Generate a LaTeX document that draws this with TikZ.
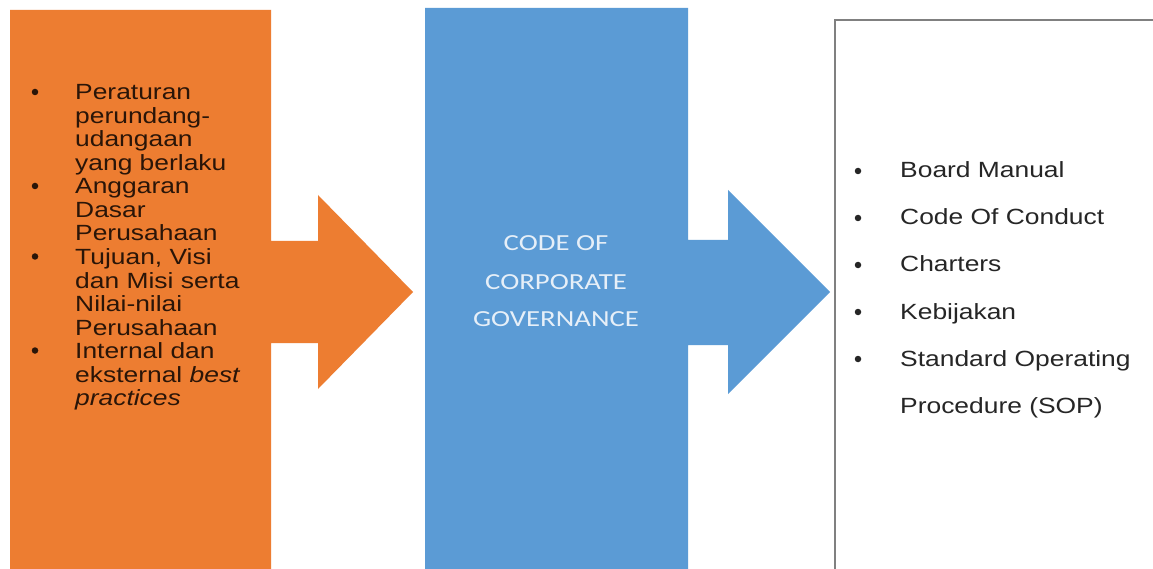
\documentclass[tikz,border=0pt]{standalone}
\usepackage{fontspec}
\setmainfont{Liberation Sans}[FakeStretch=1.2]
\newfontfamily\midfont{Carlito}[FakeStretch=1.25]
\definecolor{orangeC}{HTML}{ED7D31}
\definecolor{blueC}{HTML}{5B9BD5}
\definecolor{midtxt}{HTML}{E6EFF8}
\definecolor{darktxt}{HTML}{2A1508}
\definecolor{righttxt}{HTML}{262626}
\definecolor{boxgray}{HTML}{808080}
\tikzset{
  lefttxt/.style={anchor=base west, inner sep=0pt, text=darktxt, font=\fontsize{22}{23.5}\selectfont},
  righttxt/.style={anchor=base west, inner sep=0pt, text=righttxt, font=\fontsize{22}{26}\selectfont},
  bul/.style={circle, inner sep=0pt, minimum size=6.5pt},
  midtext/.style={anchor=base, inner sep=0pt, text=midtxt, font=\midfont\fontsize{23}{26}\selectfont}
}
\begin{document}
\begin{tikzpicture}[x=1pt,y=-1pt]
\useasboundingbox (0,0) rectangle (1153,569);
\fill[white] (0,0) rectangle (1153,569);
% orange block with arrow
\fill[orangeC] (10,10) -- (271,10) -- (271,241) -- (318,241) -- (318,195) -- (413,292)
  -- (318,389) -- (318,343) -- (271,343) -- (271,569) -- (10,569) -- cycle;
% blue block with arrow
\fill[blueC] (425,8) -- (688,8) -- (688,240) -- (728,240) -- (728,190) -- (830,292)
  -- (728,394) -- (728,345) -- (688,345) -- (688,569) -- (425,569) -- cycle;
% right box
\draw[boxgray, line width=1.3pt] (1153,20) -- (835,20) -- (835,569);
% left text
\foreach \t [count=\i] in {Peraturan, perundang-, udangaan, yang berlaku, Anggaran, Dasar, Perusahaan,
  {Tujuan, Visi}, dan Misi serta, Nilai-nilai, Perusahaan, Internal dan, {eksternal \textit{best}}, \textit{practices}}
  \node[lefttxt] (l\i) at (75,{100+23.5*(\i-1)}) {\t};
\foreach \i in {1,5,8,12}
  \node[bul, fill=darktxt] (lb\i) at (35,{92+23.5*(\i-1)}) {};
% middle text
\node[midtext] (m1) at (556,251) {CODE OF};
\node[midtext] (m2) at (556,289) {CORPORATE};
\node[midtext] (m3) at (556,326) {GOVERNANCE};
% right text
\foreach \t [count=\i] in {Board Manual, Code Of Conduct, Charters, Kebijakan, Standard Operating, Procedure (SOP)}
  \node[righttxt] (r\i) at (900,{178+47*(\i-1)}) {\t};
\foreach \i in {1,...,5}
  \node[bul, fill=righttxt] (rb\i) at (858,{171+47*(\i-1)}) {};
\end{tikzpicture}
\end{document}
